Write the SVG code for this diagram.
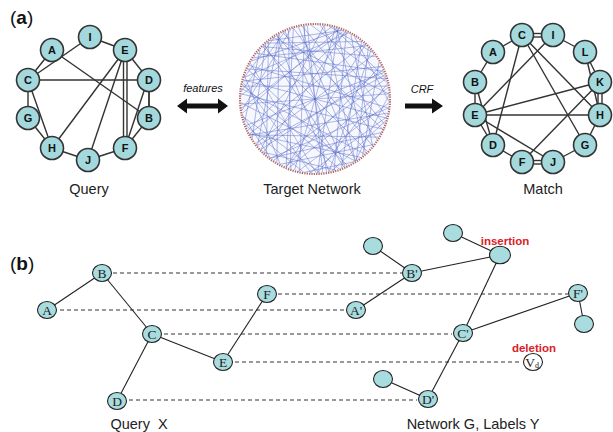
<svg xmlns="http://www.w3.org/2000/svg" xmlns:xlink="http://www.w3.org/1999/xlink" width="613" height="432" viewBox="0 0 613 432">
<style>
.na circle{fill:#a3d9dc;stroke:#333;stroke-width:1.6}
.na text{font-family:"Liberation Sans",Arial,sans-serif;font-weight:bold;font-size:11px;text-anchor:middle;fill:#111}
.ea line{stroke:#333;stroke-width:1.4}
.nb ellipse{fill:#a9dcdf;stroke:#222;stroke-width:1.1}
.nb text{font-family:"Liberation Serif","Times New Roman",serif;font-size:13.5px;text-anchor:middle;fill:#222}
.eb line{stroke:#222;stroke-width:1.1}
.dash line{stroke:#333;stroke-width:1;stroke-dasharray:4 3}
.lbl{font-family:"Liberation Sans",Arial,sans-serif;font-size:14.5px;fill:#222;text-anchor:middle}
.it{font-family:"Liberation Sans",Arial,sans-serif;font-style:italic;font-size:11px;fill:#111;text-anchor:middle}
.red{font-family:"Liberation Sans",Arial,sans-serif;font-weight:bold;font-size:11.5px;fill:#d8202a;text-anchor:middle}
.ch{stroke:#5468c8;stroke-width:0.85;stroke-opacity:0.5}
</style>
<defs>
<line id="c40" class="ch" x1="74" y1="0" x2="56.69" y2="47.57"/>
<line id="c60" class="ch" x1="74" y1="0" x2="37" y2="64.09"/>
<line id="c80" class="ch" x1="74" y1="0" x2="12.85" y2="72.88"/>
<line id="c100" class="ch" x1="74" y1="0" x2="-12.85" y2="72.88"/>
<line id="c120" class="ch" x1="74" y1="0" x2="-37" y2="64.09"/>
<line id="c140" class="ch" x1="74" y1="0" x2="-56.69" y2="47.57"/>
<line id="c160" class="ch" x1="74" y1="0" x2="-69.54" y2="25.31"/>
<line id="c180" class="ch" x1="74" y1="0" x2="-74" y2="0"/>
</defs>
<text x="10" y="24" font-family="Liberation Sans,Arial,sans-serif" font-size="19" fill="#111">(<tspan font-weight="bold">a</tspan>)</text>
<text x="10" y="270" font-family="Liberation Sans,Arial,sans-serif" font-size="19" fill="#111">(<tspan font-weight="bold">b</tspan>)</text>
<g id="query-a-edges" class="ea">
<line x1="90" y1="37" x2="125" y2="50"/>
<line x1="90" y1="37" x2="28" y2="80"/>
<line x1="52" y1="50" x2="28" y2="80"/>
<line x1="52" y1="50" x2="149" y2="118"/>
<line x1="28" y1="80" x2="149" y2="80"/>
<line x1="28" y1="80" x2="28" y2="118"/>
<line x1="28" y1="80" x2="52" y2="148"/>
<line x1="28" y1="118" x2="52" y2="148"/>
<line x1="52" y1="148" x2="88" y2="160"/>
<line x1="88" y1="160" x2="125" y2="148"/>
<line x1="125" y1="148" x2="149" y2="118"/>
<line x1="125" y1="148" x2="147" y2="82"/>
<line x1="149" y1="80" x2="149" y2="118" style="stroke-width:1.8"/>
<line x1="125" y1="50" x2="149" y2="80"/>
<line x1="125" y1="50" x2="52" y2="148"/>
<line x1="125" y1="50" x2="88" y2="160"/>
<line x1="123.5" y1="50" x2="123.5" y2="148"/>
<line x1="127" y1="50" x2="127" y2="148"/>
</g>
<g id="query-a-nodes" class="na">
<g id="qa-I"><circle cx="90" cy="37" r="11.5"/><text x="90" y="41">I</text></g>
<g id="qa-A"><circle cx="52" cy="50" r="11.5"/><text x="52" y="54">A</text></g>
<g id="qa-E"><circle cx="125" cy="50" r="11.5"/><text x="125" y="54">E</text></g>
<g id="qa-C"><circle cx="28" cy="80" r="11.5"/><text x="28" y="84">C</text></g>
<g id="qa-D"><circle cx="149" cy="80" r="11.5"/><text x="149" y="84">D</text></g>
<g id="qa-G"><circle cx="28" cy="118" r="11.5"/><text x="28" y="122">G</text></g>
<g id="qa-B"><circle cx="149" cy="118" r="11.5"/><text x="149" y="122">B</text></g>
<g id="qa-H"><circle cx="52" cy="148" r="11.5"/><text x="52" y="152">H</text></g>
<g id="qa-F"><circle cx="125" cy="148" r="11.5"/><text x="125" y="152">F</text></g>
<g id="qa-J"><circle cx="88" cy="160" r="11.5"/><text x="88" y="164">J</text></g>
</g>
<text class="lbl" x="89" y="194">Query</text>
<g id="target-network">
<circle cx="315" cy="99" r="75" fill="#f7f8fd"/>
<g transform="translate(315,99)">
<use href="#c100" transform="rotate(3)"/><use href="#c140" transform="rotate(11)"/><use href="#c60" transform="rotate(17)"/>
<use href="#c160" transform="rotate(24)"/><use href="#c120" transform="rotate(31)"/><use href="#c80" transform="rotate(38)"/>
<use href="#c180" transform="rotate(45)"/><use href="#c100" transform="rotate(52)"/><use href="#c40" transform="rotate(58)"/>
<use href="#c140" transform="rotate(64)"/><use href="#c120" transform="rotate(71)"/><use href="#c160" transform="rotate(79)"/>
<use href="#c80" transform="rotate(86)"/><use href="#c100" transform="rotate(93)"/><use href="#c60" transform="rotate(99)"/>
<use href="#c180" transform="rotate(106)"/><use href="#c140" transform="rotate(113)"/><use href="#c120" transform="rotate(121)"/>
<use href="#c40" transform="rotate(127)"/><use href="#c160" transform="rotate(134)"/><use href="#c100" transform="rotate(141)"/>
<use href="#c80" transform="rotate(148)"/><use href="#c140" transform="rotate(155)"/><use href="#c60" transform="rotate(162)"/>
<use href="#c120" transform="rotate(169)"/><use href="#c180" transform="rotate(176)"/><use href="#c100" transform="rotate(183)"/>
<use href="#c160" transform="rotate(190)"/><use href="#c40" transform="rotate(197)"/><use href="#c140" transform="rotate(204)"/>
<use href="#c80" transform="rotate(211)"/><use href="#c120" transform="rotate(218)"/><use href="#c100" transform="rotate(225)"/>
<use href="#c60" transform="rotate(232)"/><use href="#c160" transform="rotate(239)"/><use href="#c180" transform="rotate(246)"/>
<use href="#c140" transform="rotate(253)"/><use href="#c120" transform="rotate(260)"/><use href="#c80" transform="rotate(267)"/>
<use href="#c100" transform="rotate(274)"/><use href="#c40" transform="rotate(281)"/><use href="#c160" transform="rotate(288)"/>
<use href="#c140" transform="rotate(295)"/><use href="#c60" transform="rotate(302)"/><use href="#c120" transform="rotate(309)"/>
<use href="#c100" transform="rotate(316)"/><use href="#c180" transform="rotate(323)"/><use href="#c80" transform="rotate(330)"/>
<use href="#c160" transform="rotate(337)"/><use href="#c140" transform="rotate(344)"/><use href="#c120" transform="rotate(351)"/>
<use href="#c60" transform="rotate(357)"/>
<use href="#c120" transform="rotate(7)"/><use href="#c100" transform="rotate(27)"/><use href="#c140" transform="rotate(48)"/>
<use href="#c160" transform="rotate(67)"/><use href="#c120" transform="rotate(89)"/><use href="#c140" transform="rotate(109)"/>
<use href="#c100" transform="rotate(131)"/><use href="#c160" transform="rotate(152)"/><use href="#c120" transform="rotate(173)"/>
<use href="#c140" transform="rotate(194)"/><use href="#c100" transform="rotate(214)"/><use href="#c120" transform="rotate(236)"/>
<use href="#c160" transform="rotate(257)"/><use href="#c140" transform="rotate(277)"/><use href="#c100" transform="rotate(299)"/>
<use href="#c120" transform="rotate(319)"/><use href="#c160" transform="rotate(341)"/><use href="#c80" transform="rotate(14)"/>
<use href="#c80" transform="rotate(118)"/><use href="#c80" transform="rotate(229)"/><use href="#c60" transform="rotate(74)"/>
<use href="#c60" transform="rotate(186)"/><use href="#c60" transform="rotate(284)"/>
<use href="#c180" transform="rotate(15)"/><use href="#c180" transform="rotate(81)"/><use href="#c160" transform="rotate(102)"/>
<use href="#c140" transform="rotate(137)"/><use href="#c180" transform="rotate(159)"/><use href="#c160" transform="rotate(207)"/>
<use href="#c140" transform="rotate(244)"/><use href="#c180" transform="rotate(264)"/><use href="#c160" transform="rotate(313)"/>
<use href="#c140" transform="rotate(333)"/><use href="#c120" transform="rotate(57)"/><use href="#c100" transform="rotate(197)"/>
<use href="#c120" transform="rotate(287)"/><use href="#c100" transform="rotate(348)"/><use href="#c80" transform="rotate(171)"/>
</g>
<circle cx="315" cy="99" r="75" fill="none" stroke="#b06a6a" stroke-width="2.2" stroke-dasharray="1.3 1.1"/>
</g>
<text class="lbl" x="312" y="194">Target Network</text>
<g id="features-arrow">
<text class="it" x="203" y="92">features</text>
<polygon points="177,106 187,98.5 187,103.5 218,103.5 218,98.5 228,106 218,113.5 218,108.5 187,108.5 187,113.5" fill="#111"/>
</g>
<g id="crf-arrow">
<text class="it" x="422" y="93">CRF</text>
<polygon points="405,103.5 432,103.5 432,98.5 443,106 432,113.5 432,108.5 405,108.5" fill="#111"/>
</g>
<g id="match-edges" class="ea">
<line x1="522" y1="33.5" x2="553" y2="33.5"/>
<line x1="522" y1="37" x2="553" y2="37"/>
<line x1="553" y1="35" x2="585" y2="52"/>
<line x1="522" y1="35" x2="493" y2="52"/>
<line x1="493" y1="52" x2="475" y2="82"/>
<line x1="475" y1="82" x2="475" y2="115"/>
<line x1="475" y1="115" x2="493" y2="145"/>
<line x1="475" y1="82" x2="493" y2="145"/>
<line x1="493" y1="145" x2="522" y2="162"/>
<line x1="522" y1="160.5" x2="553" y2="160.5"/>
<line x1="522" y1="164" x2="553" y2="164"/>
<line x1="553" y1="162" x2="585" y2="145"/>
<line x1="585" y1="145" x2="600" y2="115"/>
<line x1="598" y1="82" x2="598" y2="115"/>
<line x1="602" y1="82" x2="602" y2="115"/>
<line x1="585" y1="52" x2="600" y2="82"/>
<line x1="585" y1="52" x2="600" y2="115"/>
<line x1="522" y1="35" x2="493" y2="145"/>
<line x1="522" y1="35" x2="600" y2="115"/>
<line x1="522" y1="35" x2="585" y2="145"/>
<line x1="553" y1="35" x2="475" y2="115"/>
<line x1="600" y1="82" x2="475" y2="115"/>
<line x1="475" y1="115" x2="600" y2="115"/>
<line x1="475" y1="115" x2="553" y2="162"/>
<line x1="600" y1="82" x2="522" y2="162"/>
</g>
<g id="match-nodes" class="na">
<g id="m-C"><circle cx="522" cy="35" r="11.5"/><text x="522" y="39">C</text></g>
<g id="m-I"><circle cx="553" cy="35" r="11.5"/><text x="553" y="39">I</text></g>
<g id="m-A"><circle cx="493" cy="52" r="11.5"/><text x="493" y="56">A</text></g>
<g id="m-L"><circle cx="585" cy="52" r="11.5"/><text x="585" y="56">L</text></g>
<g id="m-B"><circle cx="475" cy="82" r="11.5"/><text x="475" y="86">B</text></g>
<g id="m-K"><circle cx="600" cy="82" r="11.5"/><text x="600" y="86">K</text></g>
<g id="m-E"><circle cx="475" cy="115" r="11.5"/><text x="475" y="119">E</text></g>
<g id="m-H"><circle cx="600" cy="115" r="11.5"/><text x="600" y="119">H</text></g>
<g id="m-D"><circle cx="493" cy="145" r="11.5"/><text x="493" y="149">D</text></g>
<g id="m-G"><circle cx="585" cy="145" r="11.5"/><text x="585" y="149">G</text></g>
<g id="m-F"><circle cx="522" cy="162" r="11.5"/><text x="522" y="166">F</text></g>
<g id="m-J"><circle cx="553" cy="162" r="11.5"/><text x="553" y="166">J</text></g>
</g>
<text class="lbl" x="543" y="194">Match</text>
<g id="mapping-dashes" class="dash">
<line x1="113" y1="273" x2="402" y2="273"/>
<line x1="278" y1="294" x2="568" y2="294"/>
<line x1="60" y1="310" x2="345" y2="310"/>
<line x1="164" y1="334" x2="452" y2="334"/>
<line x1="235" y1="362" x2="522" y2="362"/>
<line x1="129" y1="400" x2="417" y2="400"/>
</g>
<g id="query-b-edges" class="eb">
<line x1="47" y1="310" x2="102" y2="273"/>
<line x1="102" y1="273" x2="152" y2="334"/>
<line x1="152" y1="334" x2="223" y2="362"/>
<line x1="223" y1="362" x2="267" y2="294"/>
<line x1="152" y1="334" x2="117" y2="401"/>
</g>
<g id="query-b-nodes" class="nb">
<g id="qb-B"><ellipse cx="102" cy="273" rx="9.5" ry="8.5"/><text x="102" y="278">B</text></g>
<g id="qb-A"><ellipse cx="47" cy="310" rx="9.5" ry="8.5"/><text x="47" y="315">A</text></g>
<g id="qb-F"><ellipse cx="267" cy="294" rx="9.5" ry="8.5"/><text x="267" y="299">F</text></g>
<g id="qb-C"><ellipse cx="152" cy="334" rx="9.5" ry="8.5"/><text x="152" y="339">C</text></g>
<g id="qb-E"><ellipse cx="223" cy="362" rx="9.5" ry="8.5"/><text x="223" y="367">E</text></g>
<g id="qb-D"><ellipse cx="117" cy="401" rx="9.5" ry="8.5"/><text x="117" y="406">D</text></g>
</g>
<text class="lbl" x="139" y="429" xml:space="preserve">Query  X</text>
<g id="network-b-edges" class="eb">
<line x1="412" y1="273" x2="373" y2="246"/>
<line x1="412" y1="273" x2="356" y2="310"/>
<line x1="412" y1="273" x2="500" y2="255"/>
<line x1="500" y1="255" x2="453" y2="233"/>
<line x1="500" y1="255" x2="463" y2="333"/>
<line x1="463" y1="333" x2="578" y2="293"/>
<line x1="578" y1="293" x2="584" y2="324"/>
<line x1="463" y1="333" x2="428" y2="399"/>
<line x1="428" y1="399" x2="383" y2="379"/>
</g>
<g id="network-b-nodes" class="nb">
<g id="n-x1"><ellipse cx="373" cy="246" rx="9.5" ry="8.5"/></g>
<g id="n-x2"><ellipse cx="453" cy="233" rx="9.5" ry="8.5"/></g>
<g id="n-ins"><ellipse cx="500" cy="255" rx="10.5" ry="8.8"/></g>
<g id="n-x3"><ellipse cx="584" cy="324" rx="9.5" ry="8.5"/></g>
<g id="n-x4"><ellipse cx="383" cy="379" rx="9.5" ry="8.5"/></g>
<g id="n-B"><ellipse cx="412" cy="273" rx="9.5" ry="8.5"/><text x="412" y="278">B'</text></g>
<g id="n-A"><ellipse cx="356" cy="310" rx="9.5" ry="8.5"/><text x="356" y="315">A'</text></g>
<g id="n-F"><ellipse cx="578" cy="293" rx="9.5" ry="8.5"/><text x="578" y="298">F'</text></g>
<g id="n-C"><ellipse cx="463" cy="333" rx="9.5" ry="8.5"/><text x="463" y="338">C'</text></g>
<g id="n-D"><ellipse cx="428" cy="399" rx="9.5" ry="8.5"/><text x="428" y="404">D'</text></g>
<g id="n-Vd"><ellipse cx="533" cy="362" rx="9.5" ry="8.5" style="fill:#fff"/><text x="532" y="367">V<tspan font-size="8" dy="1">d</tspan></text></g>
</g>
<text class="red" x="505" y="245">insertion</text>
<text class="red" x="534" y="352">deletion</text>
<text class="lbl" x="473" y="429">Network G, Labels Y</text>
</svg>
